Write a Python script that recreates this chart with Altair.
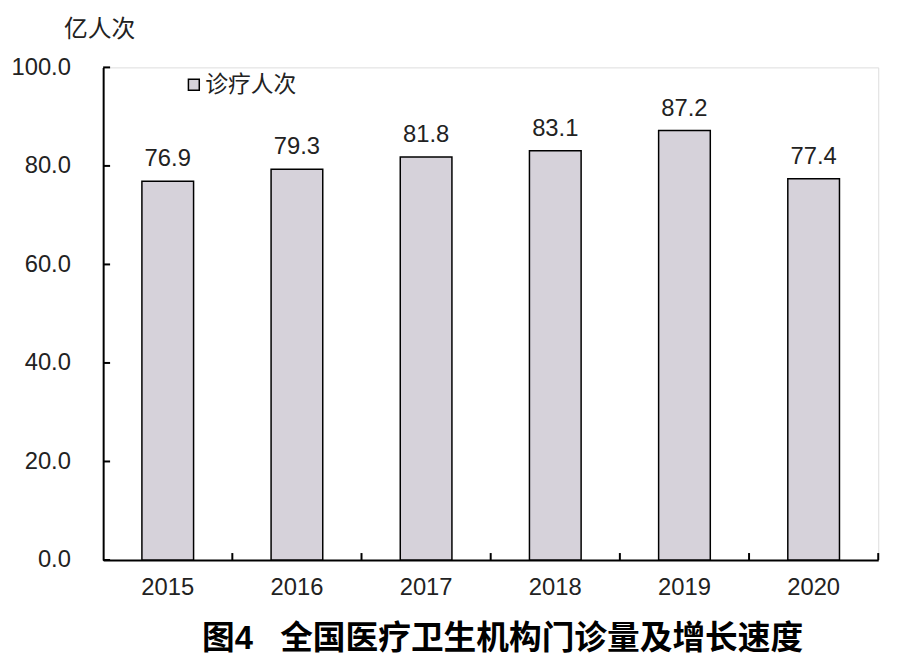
import altair as alt
import pandas as pd

years = ["2015", "2016", "2017", "2018", "2019", "2020"]
visits = [76.9, 79.3, 81.8, 83.1, 87.2, 77.4]
series_name = "诊疗人次"
y_ticks = [0, 20, 40, 60, 80, 100]
y_unit = "亿人次"
title_text = "图4\u00a0\u00a0\u00a0全国医疗卫生机构门诊量及增长速度"

W, H = 782, 497
STEP = W / len(years)
LATIN = "Liberation Sans"
CJK = "Noto Sans CJK SC"
MIX = "Liberation Sans, Noto Sans CJK SC"

df = pd.DataFrame({"year": years, "value": visits, "series": [series_name] * len(years)})
tick_df = pd.DataFrame({"t": y_ticks})

xscale = alt.Scale(domain=years, paddingInner=0.6, paddingOuter=0.3)
yscale = alt.Scale(domain=[0, 100])

bars = alt.Chart(df).mark_bar(stroke="black", strokeWidth=1.5).encode(
    x=alt.X("year:N", scale=xscale, sort=years,
            axis=alt.Axis(title=None, labelAngle=0, ticks=False, domainColor="black",
                          domainWidth=2, labelFont=LATIN, labelFontSize=24,
                          labelColor="#222", labelPadding=16)),
    y=alt.Y("value:Q", scale=yscale,
            axis=alt.Axis(values=y_ticks, format=".1f", ticks=False, grid=False,
                          domainColor="black", domainWidth=2, labelFont=LATIN,
                          labelFontSize=24, labelColor="#222", labelPadding=33,
                          title=y_unit, titleAngle=0, titleFont=CJK, titleFontSize=24,
                          titleFontWeight="normal", titleColor="#222",
                          titleX=-4, titleY=-38, titleAlign="center",
                          titleBaseline="middle")),
    color=alt.Color("series:N", scale=alt.Scale(range=["#d6d2da"]),
                    legend=alt.Legend(title=None, orient="none", legendX=80, legendY=6,
                                      symbolType="square", symbolSize=120,
                                      symbolStrokeColor="black", symbolStrokeWidth=1.5,
                                      labelFont=CJK, labelFontSize=23, labelColor="#222",
                                      labelOffset=0)),
)

labels = alt.Chart(df).mark_text(font=LATIN, fontSize=24, color="#222",
                                 baseline="alphabetic", dy=-15).encode(
    x=alt.X("year:N", scale=xscale, sort=years),
    y=alt.Y("value:Q", scale=yscale),
    text=alt.Text("value:Q", format=".1f"),
)

yticks = alt.Chart(tick_df).mark_rule(color="black", strokeWidth=2).encode(
    y=alt.Y("t:Q", scale=yscale),
    x=alt.value(0),
    x2=alt.value(7),
)

xticks = alt.Chart(df).mark_rule(color="black", strokeWidth=2, xOffset=STEP / 2).encode(
    x=alt.X("year:N", scale=xscale, sort=years),
    y=alt.value(H),
    y2=alt.value(H - 7),
)

chart = alt.layer(bars, labels, yticks, xticks).properties(
    width=W, height=H,
    title=alt.TitleParams(title_text, orient="bottom", font=MIX, fontSize=33,
                          fontWeight="bold", color="black", offset=24, dx=12),
    autosize=alt.AutoSizeParams(type="none"),
    padding={"left": 96, "top": 57, "right": 26, "bottom": 100},
).configure_view(stroke=None).configure(background="white")

chart.save("out.html", embed_options={"renderer": "svg", "actions": False})
